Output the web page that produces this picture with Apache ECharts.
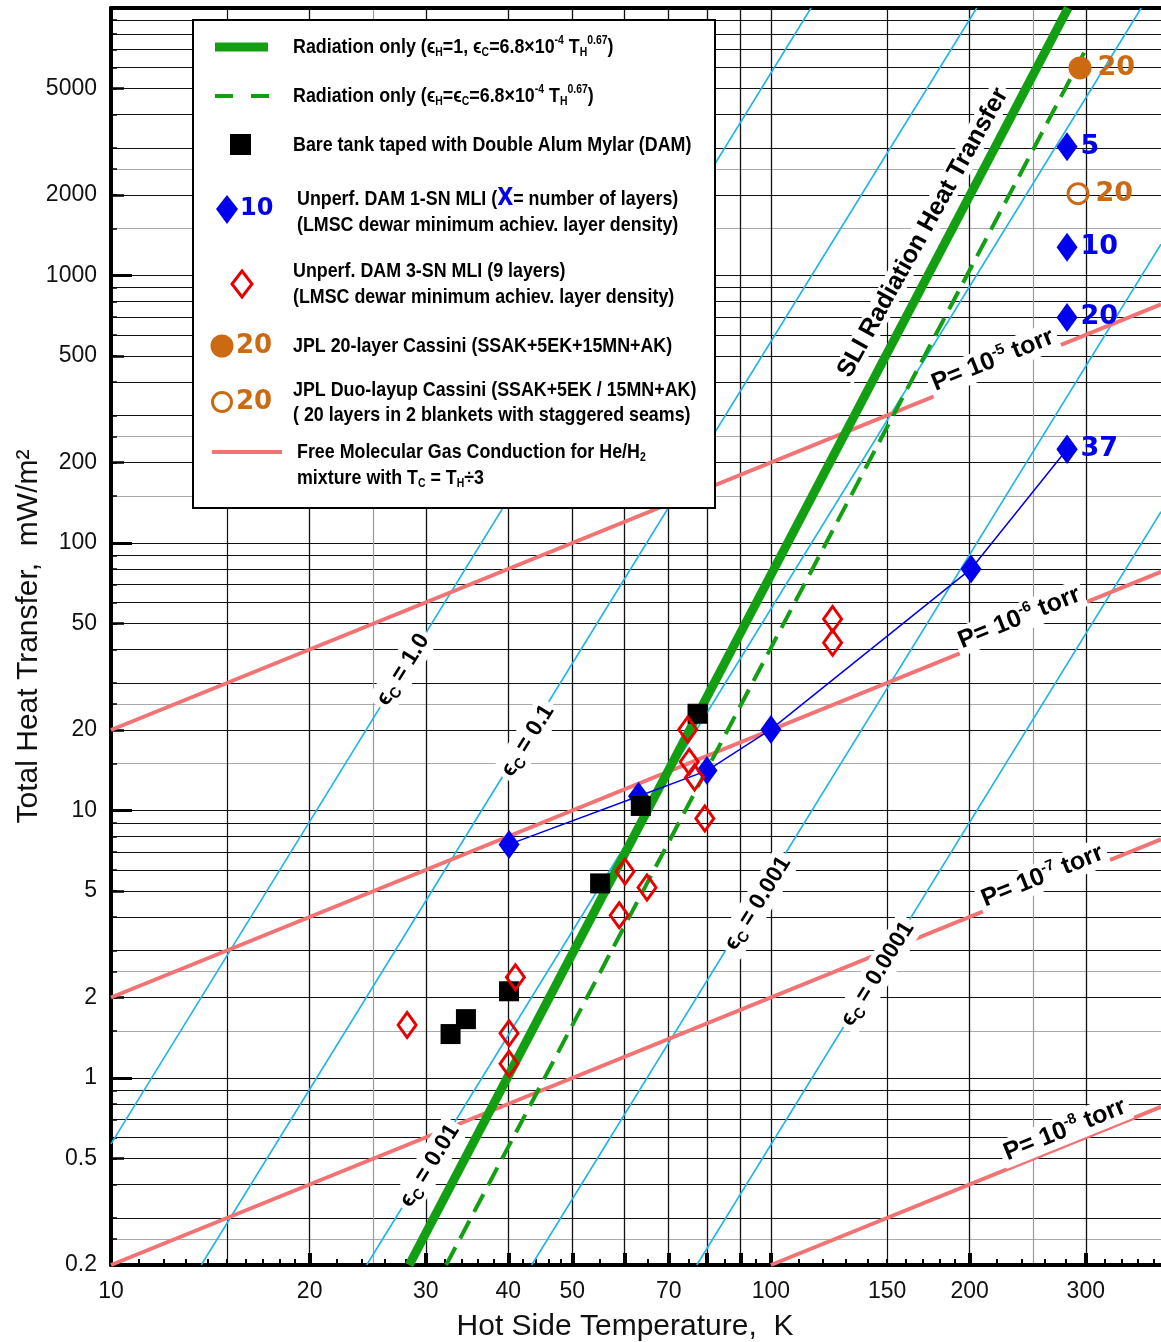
<!DOCTYPE html>
<html><head><meta charset="utf-8">
<script src="https://cdn.jsdelivr.net/npm/echarts@6/dist/echarts.min.js"></script>
<style>html,body{margin:0;padding:0;background:#fff}#c{width:1161px;height:1342px}</style>
</head><body><div id="c"></div>
<script>
// ---------------- data ----------------
const tempTicks = [10, 20, 30, 40, 50, 70, 100, 150, 200, 300];
const tempMajorTicks = [20, 30, 40, 50, 60, 70, 80, 90, 100, 200, 300];
const tempMinorTicks = [11,12,13,14,15,16,17,18,19,22,24,26,28,32,34,36,38,42,44,46,48,55,65,75,85,95,110,120,130,140,150,160,170,180,190,220,240,260,280,320,340,360,380];
const tempGridExtra = [15, 150];
const tempGridLight = [25, 250];
const tempRange = [10, 390];

const heatTicks = [0.2, 0.5, 1, 2, 5, 10, 20, 50, 100, 200, 500, 1000, 2000, 5000];
const heatDecadeTicks = [1, 10, 100, 1000];
const heatGrid = [0.3,0.4,0.5,0.6,0.7,0.8,0.9,1,2,3,4,5,6,7,8,9,10,20,30,40,50,60,70,80,90,100,200,300,400,500,600,700,800,900,1000,2000,3000,4000,5000,6000,7000,8000,9000];
const heatGridLight = [0.25, 1.5, 2.5, 15, 25, 150, 250, 1500, 2500];
const heatRange = [0.2, 10000];

// Radiation only lines (end points)
const radSolidT = [28.3, 282], radSolidQ = [0.2, 10000];
const radDashT = [32.2, 300], radDashQ = [0.2, 7000];
const sliLabelT = 170, sliLabelQ = 1446;

// constant cold-side emissivity lines
const epsLabels = ['1.0', '0.1', '0.01', '0.001', '0.0001'];
const epsStartT = [10, 13.7, 24.4, 43.4, 77.2];
const epsStartQ = [0.567, 0.2, 0.2, 0.2, 0.2];
const epsEndT = [115, 205, 364, 390, 390];
const epsEndQ = [10000, 10000, 10000, 1310, 131];
const epsLabelT = [27.7, 42.8, 30.4, 95.5, 145];
const epsLabelQ = [33.6, 18.25, 0.47, 4.5, 2.45];

// free molecular gas conduction lines
const pressExp = ['-5', '-6', '-7', '-8'];
const pressStartT = [10, 10, 10, 100];
const pressStartQ = [20, 2, 0.2, 0.2];
const pressEndT = [390, 390, 390, 390];
const pressEndQ = [780, 78, 7.8, 0.78];
const pressLabelT = [217, 238, 258, 279];
const pressLabelQ = [482, 52.5, 5.68, 0.64];

// Bare tank taped with DAM
const bareT = [32.7, 34.5, 40.1, 55.1, 63.5, 77.4];
const bareQ = [1.46, 1.66, 2.11, 5.34, 10.4, 23.0];

// Unperf. DAM 1-SN MLI (connected)
const sn1T = [40.1, 63.0, 80.0, 100, 201, 281];
const sn1Q = [7.47, 11.3, 14.1, 20.1, 80, 224];

// Unperf. DAM 1-SN MLI with layer counts at ~281 K
const layerT = [281, 281, 281, 281];
const layerQ = [3030, 1275, 697, 224];
const layerN = ['5', '10', '20', '37'];

// Unperf. DAM 3-SN MLI (9 layers)
const sn3T = [28.1, 40.1, 40.1, 41.0, 58.9, 60.1, 64.9, 74.8, 75.2, 76.6, 79.4, 124, 124];
const sn3Q = [1.58, 1.47, 1.13, 2.38, 4.06, 5.92, 5.16, 20.1, 15.2, 13.3, 9.33, 52, 42.4];

// JPL Cassini
const jplT = [294], jplQ = [5970], jplN = ['20'];
const duoT = [292], duoQ = [2023], duoN = ['20'];

// ---------------- chart ----------------
const L = Math.log10;
const P = (t, q) => [L(t), L(q)];
const FONT = '"Liberation Sans", Arial, Helvetica, sans-serif';
const HEAVY = '"DejaVu Sans", "Liberation Sans", sans-serif';
const CYAN = '#1DB5EC', RED = '#F27373', GREEN = '#12A012', BLUE = '#0000EE', ORANGE = '#CC6A14';
const fmt = v => String(Number(Math.pow(10, v).toPrecision(4)));

const xMin = L(tempRange[0]), xMax = L(tempRange[1]);
const yMin = L(heatRange[0]), yMax = L(heatRange[1]);

function hiddenAxis(pos, min, max, extra) {
  return Object.assign({
    type: 'value', min, max, position: pos,
    axisLine: { show: false, onZero: false },
    axisTick: { show: false },
    axisLabel: { show: false },
    splitLine: { show: false }
  }, extra);
}

const xAxes = [
  {
    type: 'value', min: xMin, max: xMax, position: 'bottom',
    axisLine: { show: true, onZero: false, lineStyle: { color: '#000', width: 4 } },
    axisTick: { show: true, inside: true, length: 12, lineStyle: { color: '#000', width: 4 }, customValues: tempMajorTicks.map(L) },
    axisLabel: { show: true, customValues: tempTicks.map(L), formatter: fmt, fontSize: 23, color: '#111', margin: 15, fontFamily: FONT },
    splitLine: { show: true, lineStyle: { color: '#111', width: 1.3 } },
    name: 'Hot Side Temperature,  K', nameLocation: 'middle', nameGap: 47, nameMoveOverlap: false,
    nameTextStyle: { fontSize: 30, color: '#111', fontFamily: FONT, padding: [0, 22, 0, 0] }
  },
  hiddenAxis('bottom', xMin, xMax, {
    axisTick: { show: true, inside: true, length: 6, lineStyle: { color: '#000', width: 2 }, customValues: tempMinorTicks.map(L) }
  }),
  hiddenAxis('bottom', xMin, xMax, {
    axisTick: { show: false, customValues: tempGridExtra.map(L) },
    splitLine: { show: true, lineStyle: { color: '#111', width: 1.2 } }
  }),
  hiddenAxis('bottom', xMin, xMax, {
    axisTick: { show: false, customValues: tempGridLight.map(L) },
    splitLine: { show: true, lineStyle: { color: '#999', width: 1.2 } }
  }),
  hiddenAxis('top', xMin, xMax, {
    axisLine: { show: true, onZero: false, lineStyle: { color: '#000', width: 4 } }
  })
];

const yAxes = [
  {
    type: 'value', min: yMin, max: yMax, position: 'left',
    axisLine: { show: true, onZero: false, lineStyle: { color: '#000', width: 4 } },
    axisTick: { show: true, inside: true, length: 13, lineStyle: { color: '#000', width: 2.5 }, customValues: heatTicks.map(L) },
    axisLabel: { show: true, customValues: heatTicks.map(L), formatter: fmt, fontSize: 23, color: '#111', margin: 14, fontFamily: FONT },
    splitLine: { show: false },
    name: 'Total Heat Transfer,  mW/m²', nameLocation: 'middle', nameGap: 67, nameRotate: 90, nameMoveOverlap: false,
    nameTextStyle: { fontSize: 30, color: '#111', fontFamily: FONT }
  },
  hiddenAxis('left', yMin, yMax, {
    axisTick: { show: true, inside: true, length: 6, lineStyle: { color: '#000', width: 1.5 }, customValues: heatGrid.concat(heatGridLight).map(L) }
  }),
  hiddenAxis('left', yMin, yMax, {
    axisTick: { show: true, inside: true, length: 21, lineStyle: { color: '#000', width: 3 }, customValues: heatDecadeTicks.map(L) }
  }),
  hiddenAxis('left', yMin, yMax, {
    axisTick: { show: false, customValues: heatGrid.map(L) },
    splitLine: { show: true, lineStyle: { color: '#111', width: 1.2 } }
  }),
  hiddenAxis('left', yMin, yMax, {
    axisTick: { show: false, customValues: heatGridLight.map(L) },
    splitLine: { show: true, lineStyle: { color: '#aaa', width: 1.2 } }
  })
];

const series = [];
const markBase = { silent: true, symbol: 'circle', symbolSize: 2, itemStyle: { color: 'rgba(0,0,0,0)' } };

// emissivity lines
epsLabels.forEach((lab, i) => {
  series.push({
    type: 'line', name: 'eps ' + lab, silent: true, symbol: 'none', z: 2, clip: true,
    data: [P(epsStartT[i], epsStartQ[i]), P(epsEndT[i], epsEndQ[i])],
    lineStyle: { color: CYAN, width: 1.6 },
    markPoint: Object.assign({}, markBase, {
      data: [{ coord: P(epsLabelT[i], epsLabelQ[i]) }],
      label: {
        show: true, position: 'inside', rotate: 58, backgroundColor: '#fff', padding: [1, 4],
        formatter: '{e|ϵ}{c|C}{e| = ' + lab + '}',
        rich: {
          e: { fontSize: 23, fontWeight: 'bold', color: '#000', fontFamily: FONT, lineHeight: 28 },
          c: { fontSize: 15, fontWeight: 'bold', color: '#000', fontFamily: FONT, verticalAlign: 'bottom', lineHeight: 15 }
        }
      }
    })
  });
});

// pressure lines
pressExp.forEach((ex, i) => {
  series.push({
    type: 'line', name: 'P 1e' + ex, silent: true, symbol: 'none', z: 3, clip: true,
    data: [P(pressStartT[i], pressStartQ[i]), P(pressEndT[i], pressEndQ[i])],
    lineStyle: { color: RED, width: 4 },
    markPoint: Object.assign({}, markBase, {
      data: [{ coord: P(pressLabelT[i], pressLabelQ[i]) }],
      label: {
        show: true, position: 'inside', rotate: 22, backgroundColor: '#fff', padding: [0, 4],
        formatter: '{t|P= 10}{s|' + ex + '}{t| torr}',
        rich: {
          t: { fontSize: 25, fontWeight: 'bold', color: '#000', fontFamily: FONT, lineHeight: 29 },
          s: { fontSize: 15, fontWeight: 'bold', color: '#000', fontFamily: FONT, verticalAlign: 'top', lineHeight: 15 }
        }
      }
    })
  });
});

// radiation only
series.push({
  type: 'line', name: 'Radiation only (eH=1)', silent: true, symbol: 'none', z: 4, clip: true,
  data: radSolidT.map((t, i) => P(t, radSolidQ[i])),
  lineStyle: { color: GREEN, width: 9 },
  markPoint: Object.assign({}, markBase, {
    data: [{ coord: P(sliLabelT, sliLabelQ) }],
    label: {
      show: true, position: 'inside', rotate: 61, backgroundColor: '#fff', padding: [0, 3],
      formatter: 'SLI Radiation Heat Transfer', fontSize: 25, fontWeight: 'bold', color: '#000', fontFamily: FONT
    }
  })
});
series.push({
  type: 'line', name: 'Radiation only (eH=eC)', silent: true, symbol: 'none', z: 4, clip: true,
  data: radDashT.map((t, i) => P(t, radDashQ[i])),
  lineStyle: { color: GREEN, width: 4, type: [20, 10] }
});

// 1-SN MLI connected
series.push({
  type: 'line', name: 'Unperf. DAM 1-SN MLI', z: 6,
  data: sn1T.map((t, i) => P(t, sn1Q[i])),
  symbol: 'diamond', symbolSize: [21, 29], showAllSymbol: true,
  itemStyle: { color: BLUE, opacity: 1 },
  lineStyle: { color: BLUE, width: 1.5 }
});
series.push({
  type: 'scatter', name: 'layers', z: 6,
  data: layerT.map((t, i) => P(t, layerQ[i]).concat([layerN[i]])),
  symbol: 'diamond', symbolSize: [21, 29],
  itemStyle: { color: BLUE, opacity: 1 },
  label: { show: true, position: 'right', distance: 3, formatter: p => p.value[2], fontSize: 27, fontWeight: 'bold', color: BLUE, fontFamily: HEAVY }
});

// bare tank
series.push({
  type: 'scatter', name: 'Bare tank', z: 7,
  data: bareT.map((t, i) => P(t, bareQ[i])),
  symbol: 'rect', symbolSize: 20, itemStyle: { color: '#000', opacity: 1 }
});

// 3-SN MLI
series.push({
  type: 'scatter', name: 'Unperf. DAM 3-SN MLI', z: 7,
  data: sn3T.map((t, i) => P(t, sn3Q[i])),
  symbol: 'diamond', symbolSize: [18, 25],
  itemStyle: { color: 'rgba(255,255,255,0)', borderColor: '#E80000', borderWidth: 3, opacity: 1 }
});

// JPL
series.push({
  type: 'scatter', name: 'JPL 20-layer', z: 7,
  data: jplT.map((t, i) => P(t, jplQ[i]).concat([jplN[i]])),
  symbol: 'circle', symbolSize: 23, itemStyle: { color: ORANGE, opacity: 1 },
  label: { show: true, position: 'right', distance: 6, formatter: p => p.value[2], fontSize: 27, fontWeight: 'bold', color: ORANGE, fontFamily: HEAVY }
});
series.push({
  type: 'scatter', name: 'JPL duo-layup', z: 7,
  data: duoT.map((t, i) => P(t, duoQ[i]).concat([duoN[i]])),
  symbol: 'circle', symbolSize: 20, itemStyle: { color: 'rgba(255,255,255,0)', borderColor: ORANGE, borderWidth: 3, opacity: 1 },
  label: { show: true, position: 'right', distance: 6, formatter: p => p.value[2], fontSize: 27, fontWeight: 'bold', color: ORANGE, fontFamily: HEAVY }
});

// ---------------- legend box (graphic) ----------------
const LRICH = {
  sub: { fontSize: 12, fontFamily: FONT, fontWeight: 'bold', fill: '#000', verticalAlign: 'bottom', lineHeight: 12 },
  sup: { fontSize: 12, fontFamily: FONT, fontWeight: 'bold', fill: '#000', verticalAlign: 'top', lineHeight: 12 },
  bx: { fontSize: 24, fontFamily: HEAVY, fontWeight: 'bold', fill: BLUE, lineHeight: 24 }
};
function LT(x, y, text) {
  return { type: 'text', x, y, scaleX: 0.87, z: 101, silent: true,
    style: { text, fill: '#000', fontSize: 20.5, fontFamily: FONT, fontWeight: 'bold', lineHeight: 24, align: 'left', verticalAlign: 'middle', rich: LRICH } };
}
function BigNum(x, y, text, color, size) {
  return { type: 'text', x, y, z: 101, silent: true,
    style: { text, fill: color, fontSize: size, fontFamily: HEAVY, fontWeight: 'bold', align: 'left', verticalAlign: 'middle' } };
}
const legendEls = [
  { type: 'rect', z: 100, silent: true, shape: { x: 193, y: 20, width: 522, height: 488 }, style: { fill: '#fff', stroke: '#000', lineWidth: 2 } },
  { type: 'line', z: 101, silent: true, shape: { x1: 215, y1: 47, x2: 268, y2: 47 }, style: { stroke: GREEN, lineWidth: 9 } },
  LT(293, 47, 'Radiation only (ϵ{sub|H}=1, ϵ{sub|C}=6.8×10{sup|-4} T{sub|H}{sup|0.67})'),
  { type: 'line', z: 101, silent: true, shape: { x1: 215, y1: 96, x2: 233, y2: 96 }, style: { stroke: GREEN, lineWidth: 4 } },
  { type: 'line', z: 101, silent: true, shape: { x1: 251, y1: 96, x2: 269, y2: 96 }, style: { stroke: GREEN, lineWidth: 4 } },
  LT(293, 96, 'Radiation only (ϵ{sub|H}=ϵ{sub|C}=6.8×10{sup|-4} T{sub|H}{sup|0.67})'),
  { type: 'rect', z: 101, silent: true, shape: { x: 230, y: 134, width: 21, height: 21 }, style: { fill: '#000' } },
  LT(293, 145, 'Bare tank taped with Double Alum Mylar (DAM)'),
  { type: 'polygon', z: 101, silent: true, shape: { points: [[227, 195], [238, 209], [227, 224], [216, 209]] }, style: { fill: BLUE } },
  BigNum(240, 209, '10', BLUE, 24),
  LT(297, 199, 'Unperf. DAM 1-SN MLI ({bx|X}= number of layers)'),
  LT(297, 225, '(LMSC dewar minimum achiev. layer density)'),
  { type: 'polygon', z: 101, silent: true, shape: { points: [[242, 271], [252, 284], [242, 297], [232, 284]] }, style: { fill: 'none', stroke: '#E80000', lineWidth: 3 } },
  LT(293, 271, 'Unperf. DAM 3-SN MLI (9 layers)'),
  LT(293, 297, '(LMSC dewar minimum achiev. layer density)'),
  { type: 'circle', z: 101, silent: true, shape: { cx: 222, cy: 346, r: 11.5 }, style: { fill: ORANGE } },
  BigNum(236, 346, '20', ORANGE, 26),
  LT(293, 346, 'JPL 20-layer Cassini (SSAK+5EK+15MN+AK)'),
  { type: 'circle', z: 101, silent: true, shape: { cx: 222, cy: 402, r: 9.5 }, style: { fill: 'none', stroke: ORANGE, lineWidth: 3 } },
  BigNum(236, 402, '20', ORANGE, 26),
  LT(293, 390, 'JPL Duo-layup Cassini (SSAK+5EK / 15MN+AK)'),
  LT(293, 415, '( 20 layers in 2 blankets with staggered seams)'),
  { type: 'line', z: 101, silent: true, shape: { x1: 212, y1: 452, x2: 282, y2: 452 }, style: { stroke: RED, lineWidth: 4 } },
  LT(297, 452, 'Free Molecular Gas Conduction for He/H{sub|2}'),
  LT(297, 478, 'mixture with T{sub|C} = T{sub|H}÷3')
];

const chart = echarts.init(document.getElementById('c'), null, { renderer: 'canvas' });
chart.setOption({
  animation: false,
  backgroundColor: '#fff',
  grid: { left: 111, right: 0, top: 8, bottom: 77, containLabel: false, outerBoundsMode: 'none' },
  xAxis: xAxes,
  yAxis: yAxes,
  series: series,
  graphic: { elements: legendEls }
});
</script>
</body></html>
